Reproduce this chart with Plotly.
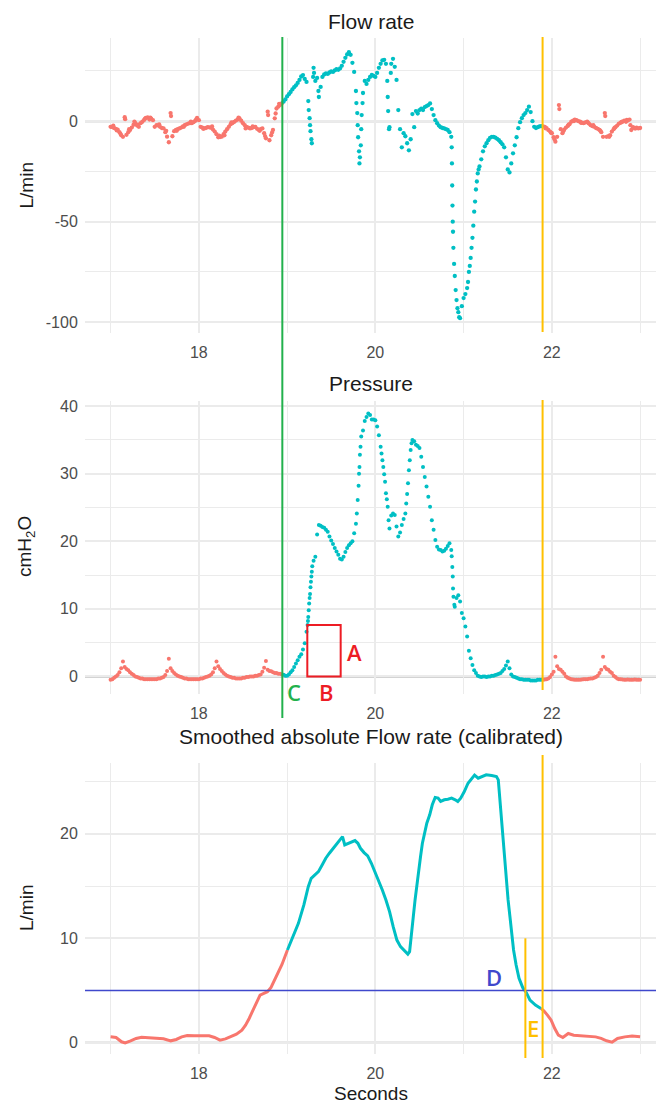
import numpy as np
import plotly.graph_objects as go

# ---------------- data ----------------
T0 = 17.0          # first sample time (s)
DT = 0.02          # sampling step of the listed raw values (s)

# Flow rate (L/min), one value every 0.02 s from 17.00 to 23.00 s
flow_rate = [
    -2.8, -3.0, -3.4, -3.8, -4.2, -5.5, -7.0, -7.8, 2.0, -6.8, -5.5, -4.4, -3.2, -1.8, -1.0, -2.2, -2.8, -1.0, -0.3, 0.6, 1.6, 1.9, 0.8, 1.2, 0.5,
    -2.8, -2.0, -2.2, -2.8, -3.4, -3.6, -5.5, -7.7, -10.5, 4.0, -7.5, -5.0, -4.4, -4.0, -3.6, -3.2, -2.6, -2.0, -1.6, -1.2, -1.0, -1.0, -0.5, 0.2, 1.6,
    0.5, -2.8, -3.2, -3.6, -3.4, -3.0, -3.1, -3.3, -4.2, -5.2, -6.5, -8.0, -7.9, -7.7, -6.5, -5.2, -4.0, -2.8, -1.6, -1.0, -0.4, 0.3, 0.8, 1.4, 0.2,
    -1.0, -2.0, -2.8, -3.2, -3.6, -3.4, -3.0, -2.8, -3.8, -4.4, -4.0, -3.6, -6.0, -8.5, 4.7, -9.5, -7.0, -4.4, 1.4, 6.3, 7.2, 8.0, 8.8, 9.7, 10.8,
    12.3, 13.4, 14.5, 15.8, 16.9, 17.8, 19.0, 20.5, 22.2, 22.9, 21.0, 19.5, 10.0, -2.0, -11.0, 26.5, 20.0, 21.5, 12.0, 17.0, 22.0, 23.2, 23.8, 23.5, 24.2,
    24.8, 24.5, 25.2, 25.8, 25.5, 26.2, 27.5, 29.5, 31.5, 33.2, 34.3, 33.0, 29.0, 24.5, 15.0, -2.0, -21.0, -4.0, 14.0, 20.0, 18.5, 20.5, 22.0, 23.0, 22.5,
    22.0, 24.0, 26.5, 28.5, 30.2, 30.5, 28.5, 12.0, -3.0, 28.5, 31.0, 27.0, 20.5, 5.5, -4.0, -13.0, -6.0, -7.5, -11.0, -14.5, -9.0, 3.5, -3.0, 5.0, 3.8,
    5.5, 6.2, 5.5, 7.0, 7.5, 8.0, 8.8, 6.0, 3.0, 0.5, -1.0, -2.2, -3.0, -3.4, -3.6, -4.0, -4.4, -5.5, -7.8, -55.0, -77.0, -89.0, -95.0, -98.0, -92.0,
    -88.0, -86.0, -83.0, -75.0, -68.0, -58.0, -45.0, -34.0, -26.0, -22.5, -19.0, -15.0, -12.5, -11.0, -9.5, -8.3, -7.8, -7.8, -8.2, -8.8, -9.5, -10.5, -11.5, -13.0, -18.0,
    -24.0, -25.5, -21.0, -16.0, -12.0, -8.0, -3.5, -0.5, 1.5, 3.0, 4.0, 5.5, 7.2, 4.5, 0.0, -2.8, -3.4, -3.0, -2.6, -2.5, -2.6, -2.8, -3.5, -4.4, -5.2,
    -6.0, -8.0, -10.2, -7.8, 8.0, -4.0, -6.0, -4.2, -3.2, -2.4, -1.5, -0.3, 0.2, 0.8, 0.5, 0.0, -0.3, -0.8, -1.0, -0.6, -0.3, -1.2, -2.0, -2.5, -2.8,
    -3.4, -3.8, -4.4, -5.5, -7.8, 4.0, -7.8, -7.4, -7.0, -5.2, -4.0, -3.0, -2.2, -1.2, -0.8, -0.3, 0.2, -0.3, 0.3, 0.8, -4.4, -3.0, -3.6, -3.2, -3.6,
    -3.4,
]
# extra flow samples visible as separate dots in fast transitions and in the noisy baseline
flow_extra_t = [17.03, 17.07, 17.11, 17.165, 17.21, 17.27, 17.31, 17.39, 17.45, 17.55, 17.63, 17.685, 17.75,
                17.83, 17.91, 17.97, 18.05, 18.15, 18.23, 18.29, 18.37, 18.45, 18.53, 18.61, 18.69, 18.75,
                18.785, 18.83, 18.87, 18.91,
                19.245, 19.255, 19.265, 19.275, 19.295, 19.305, 19.355,
                19.785, 19.795, 19.805, 19.815, 19.825, 19.835, 19.845, 19.855,
                20.135, 20.145, 20.155, 20.175,
                20.865, 20.868, 20.871, 20.874, 20.877, 20.884, 20.892, 20.91, 20.93, 20.95,
                21.05, 21.07, 21.09, 21.11, 21.13, 21.15, 21.17,
                21.93, 21.99, 22.03, 22.085, 22.13, 22.19, 22.25, 22.33, 22.41, 22.47, 22.55, 22.605,
                22.65, 22.71, 22.79, 22.85, 22.89, 22.95]
flow_extra_v = [-2.2, -4.6, -6.2, 1.0, -4.0, -0.2, -1.8, 1.2, 1.8, -1.6, -4.8, 2.5, -4.8,
                -2.8, -0.2, 0.9, -3.8, -2.6, -7.2, -7.0, -0.6, 1.8, -3.6, -2.6, -4.8, -7.4,
                3.0, -5.6, 3.8, 8.6,
                5.5, 1.5, -5.0, -9.0, 22.0, 24.0, 15.0,
                9.0, 4.0, -8.0, -15.0, -18.0, -12.0, 3.0, 9.0,
                20.0, 5.0, -4.0, 24.0,
                -13.0, -21.0, -32.0, -42.0, -50.0, -63.0, -71.0, -84.0, -93.0, -97.5,
                -80.0, -72.0, -63.0, -52.0, -40.0, -30.0, -24.0,
                -3.6, -5.8, -9.0, 6.0, -5.0, -1.8, 0.0, -0.8, -0.8, -2.0, -4.8, 2.5,
                -7.8, -3.4, -0.4, 0.6, -2.0, -3.6]

# Pressure (cmH2O), one value every 0.02 s from 17.00 to 23.00 s
pressure = [
    -0.5, -0.4, -0.2, 0.0, 0.2, 0.6, 1.2, 2.2, 1.4, 1.1, 0.9, 0.6, 0.4, 0.2, 0.0, -0.1, -0.2, -0.3, -0.3, -0.4, -0.4, -0.4, -0.4, -0.4, -0.4,
    -0.4, -0.4, -0.3, -0.3, -0.2, -0.1, 0.2, 0.8, 2.6, 1.2, 0.8, 0.5, 0.3, 0.1, 0.0, -0.1, -0.2, -0.3, -0.3, -0.4, -0.4, -0.4, -0.4, -0.4, -0.4,
    -0.4, -0.3, -0.3, -0.2, -0.1, 0.0, 0.1, 0.3, 0.6, 1.2, 2.2, 1.5, 1.1, 0.8, 0.5, 0.3, 0.1, 0.0, -0.1, -0.2, -0.2, -0.3, -0.3, -0.3, -0.3,
    -0.2, -0.2, -0.1, -0.1, 0.0, 0.0, 0.0, 0.1, 0.1, 0.2, 0.3, 0.7, 1.3, 2.3, 1.0, 0.8, 0.75, 0.6, 0.5, 0.5, 0.4, 0.4, 0.3, 0.25, 0.1,
    0.1, 0.3, 0.6, 0.9, 1.4, 1.9, 2.4, 2.9, 3.3, 4.0, 4.9, 6.6, 8.8, 12.2, 15.5, 17.1, 17.7, 21.0, 22.4, 22.3, 22.1, 22.0, 21.7, 21.4, 20.7,
    20.1, 19.6, 19.0, 18.5, 18.0, 17.4, 17.3, 17.7, 18.4, 19.0, 19.4, 19.7, 20.0, 21.2, 22.6, 26.1, 31.0, 35.5, 36.4, 37.8, 38.4, 38.9, 38.7, 38.0, 38.0,
    37.9, 37.0, 35.7, 34.0, 32.0, 29.9, 27.1, 25.1, 21.9, 23.8, 24.1, 23.9, 22.2, 20.7, 21.3, 22.4, 23.3, 24.1, 27.0, 30.5, 33.5, 35.0, 34.8, 34.3, 34.1,
    33.8, 32.5, 31.0, 29.5, 28.1, 26.6, 25.1, 23.1, 21.7, 20.2, 19.2, 18.8, 18.7, 18.5, 18.6, 18.9, 19.3, 19.7, 18.7, 13.0, 10.3, 11.6, 12.0, 11.1, 9.4,
    8.6, 7.4, 5.9, 3.8, 2.7, 1.7, 0.9, 0.5, 0.1, 0.0, -0.1, 0.0, 0.0, -0.1, 0.0, 0.0, 0.1, 0.1, 0.2, 0.3, 0.4, 0.5, 0.8, 1.1, 1.6,
    2.2, 1.2, 0.3, 0.0, -0.1, -0.2, -0.3, -0.4, -0.4, -0.5, -0.5, -0.5, -0.5, -0.6, -0.6, -0.6, -0.6, -0.5, -0.5, -0.5, -0.5, -0.45, -0.4, -0.3, -0.1,
    0.3, 0.7, 2.9, 1.5, 1.1, 1.0, 0.7, 0.4, 0.0, -0.2, -0.3, -0.4, -0.45, -0.5, -0.5, -0.5, -0.5, -0.45, -0.4, -0.4, -0.4, -0.35, -0.3, -0.3, -0.2,
    -0.1, 0.1, 0.5, 1.0, 2.9, 1.4, 1.1, 1.0, 0.7, 0.5, 0.1, -0.1, -0.3, -0.4, -0.4, -0.45, -0.5, -0.5, -0.45, -0.5, -0.5, -0.5, -0.45, -0.5, -0.5,
    -0.5,
]
pressure_extra_t = [19.232, 19.236, 19.245, 19.250, 19.255, 19.265, 19.270, 19.275, 19.285,
                    19.79, 19.81, 19.815, 19.825, 19.832,
                    20.07, 20.09, 20.11, 20.13, 20.15,
                    20.35, 20.37, 20.39, 20.41,
                    20.865, 20.872, 20.877, 20.885, 20.895]
pressure_extra_v = [7.6, 8.2, 9.8, 10.8, 11.6, 13.2, 14.0, 14.8, 16.3,
                    24.1, 28.2, 30.0, 32.8, 34.0,
                    33.0, 31.0, 28.8, 26.2, 23.1,
                    25.6, 28.6, 32.0, 34.5,
                    17.8, 16.2, 14.8, 11.8, 10.6]

# Smoothed absolute flow rate (calibrated), L/min
smooth_t = [17.000, 17.062, 17.124, 17.165, 17.227, 17.289, 17.351, 17.434, 17.517, 17.599,
            17.682, 17.744, 17.806, 17.868, 17.950, 18.033, 18.116, 18.178, 18.240, 18.302,
            18.364, 18.426, 18.488, 18.529, 18.570, 18.612, 18.653, 18.694, 18.736, 18.777,
            18.818, 18.860, 18.901, 18.942, 19.004, 19.066, 19.128, 19.190, 19.240, 19.273,
            19.314, 19.355, 19.397, 19.438, 19.479, 19.521, 19.562, 19.603, 19.628, 19.653,
            19.686, 19.727, 19.769, 19.802, 19.831, 19.872, 19.913, 19.955, 19.996, 20.037,
            20.079, 20.120, 20.161, 20.202, 20.244, 20.285, 20.326, 20.368, 20.388, 20.409,
            20.430, 20.450, 20.471, 20.492, 20.512, 20.533, 20.554, 20.583, 20.616, 20.645,
            20.678, 20.711, 20.740, 20.781, 20.822, 20.864, 20.905, 20.934, 20.967, 21.008,
            21.050, 21.091, 21.124, 21.165, 21.215, 21.256, 21.318, 21.372, 21.393, 21.405,
            21.421, 21.442, 21.463, 21.483, 21.504, 21.525, 21.545, 21.566, 21.595, 21.628,
            21.669, 21.711, 21.752, 21.814, 21.876, 21.909, 21.950, 21.992, 22.033, 22.074,
            22.124, 22.186, 22.248, 22.331, 22.413, 22.496, 22.558, 22.620, 22.682, 22.744,
            22.826, 22.909, 23.000]
smooth_v = [0.57, 0.51, 0.10, 0.00, 0.19, 0.42, 0.54, 0.51, 0.45, 0.38,
            0.19, 0.32, 0.57, 0.70, 0.67, 0.70, 0.67, 0.51, 0.26, 0.38,
            0.64, 0.83, 1.21, 1.69, 2.33, 3.13, 3.93, 4.57, 4.73, 4.89,
            5.30, 6.00, 6.80, 7.50, 8.88, 10.15, 11.43, 13.19, 14.94, 15.74,
            16.06, 16.38, 17.02, 17.66, 18.14, 18.61, 19.09, 19.48, 19.73, 18.93,
            19.03, 19.16, 19.35, 19.09, 18.61, 18.20, 17.88, 17.18, 16.38, 15.42,
            14.62, 13.67, 12.55, 11.11, 9.83, 9.20, 8.88, 8.49, 8.72, 10.15,
            12.07, 13.67, 15.26, 16.54, 17.82, 19.09, 20.05, 21.01, 21.81, 22.77,
            23.47, 23.41, 23.09, 23.25, 23.31, 23.41, 23.25, 23.09, 23.41, 24.04,
            24.84, 25.32, 25.61, 25.32, 25.48, 25.64, 25.57, 25.48, 25.16, 23.88,
            21.65, 19.41, 17.50, 15.58, 13.67, 12.07, 10.47, 8.88, 7.44, 6.16,
            5.30, 4.80, 4.09, 3.61, 3.29, 3.07, 2.65, 2.17, 1.37, 0.73,
            0.51, 0.89, 0.73, 0.67, 0.67, 0.57, 0.42, 0.19, 0.06, 0.42,
            0.57, 0.64, 0.57]

# event markers
onset = 18.946          # green line (C)
offset = 21.895         # yellow lines
threshold = 5.0         # blue line (D)
e_time = 21.70          # short yellow line (E)
e_top = 10.0
rect_t = [19.229, 19.607]   # red box (B)
rect_top = 7.6              # red box height (A)

# axes / ticks
x_range = [16.71, 23.18]
x_ticks = [18, 20, 22]
x_minor = [17, 19, 21, 23]
flow_range = [-105.2, 41.2]
flow_ticks = [-100, -50, 0]
flow_ticktext = ["-100", "-50", "0"]
flow_minor = [-75, -25, 25]
pres_range = [-2.6, 40.8]
pres_ticks = [0, 10, 20, 30, 40]
pres_minor = [5, 15, 25, 35]
smooth_range = [-1.07, 26.8]
smooth_ticks = [0, 10, 20]
smooth_minor = [5, 15, 25]

assert len(flow_rate) == 301 and len(pressure) == 301
assert len(flow_extra_t) == len(flow_extra_v)
assert len(pressure_extra_t) == len(pressure_extra_v)
assert len(smooth_t) == len(smooth_v)

# ---------------- styling ----------------
RED = "#F8766D"
TEAL = "#00BFC4"
GREEN = "#22B14C"
YELLOW = "#FFC000"
BLUE = "#3F48CC"
BOXRED = "#ED1C24"
GRID = "#EBEBEB"
ZERO = "#A8A8A8"
FONT = "Liberation Sans"
TICKFONT = dict(family=FONT, size=16, color="#4D4D4D")

W, H = 656, 1104
ML = 85


def py(px):
    """pixel row -> paper fraction (margins t=b=0)"""
    return 1 - px / H


def pxx(px):
    return (px - ML) / (W - ML)


DOM1 = [py(332.7), py(38.3)]
DOM2 = [py(694.0), py(400.7)]
DOM3 = [py(1054.0), py(762.7)]

fig = go.Figure()


def add_points(t, v, xa, ya, size):
    t = np.asarray(t)
    v = np.asarray(v)
    order = np.argsort(t, kind="stable")
    t, v = t[order], v[order]
    inside = (t >= onset) & (t <= offset)
    for mask, col in ((~inside, RED), (inside, TEAL)):
        fig.add_trace(go.Scatter(
            x=t[mask], y=v[mask], mode="markers", xaxis=xa, yaxis=ya,
            marker=dict(color=col, size=size, line=dict(width=0)),
            hoverinfo="skip", showlegend=False))


grid_t = np.round(T0 + DT * np.arange(len(flow_rate)), 3)
add_points(np.concatenate([grid_t, flow_extra_t]),
           np.concatenate([flow_rate, flow_extra_v]), "x", "y", 4.3)
add_points(np.concatenate([grid_t, pressure_extra_t]),
           np.concatenate([pressure, pressure_extra_v]), "x2", "y2", 4.0)

st = np.asarray(smooth_t)
sv = np.asarray(smooth_v)
i_on = int(np.argmax(st >= onset))
i_off = int(np.where(st <= offset)[0][-1])
# red before onset (joined to first teal point), red after offset, teal between
for sl, col in [(slice(0, i_on + 1), RED), (slice(i_off, None), RED), (slice(i_on, i_off + 1), TEAL)]:
    fig.add_trace(go.Scatter(x=st[sl], y=sv[sl], mode="lines", xaxis="x3", yaxis="y3",
                             line=dict(color=col, width=3), hoverinfo="skip", showlegend=False))


def xaxis(anchor):
    return dict(domain=[0, 1], anchor=anchor, range=x_range, tickmode="array",
                tickvals=x_ticks, ticktext=[str(v) for v in x_ticks],
                showgrid=True, gridcolor=GRID, gridwidth=1.6,
                minor=dict(tickmode="array", tickvals=x_minor, showgrid=True,
                           gridcolor=GRID, gridwidth=0.9),
                zeroline=False, showline=False, ticks="outside", ticklen=5,
                tickcolor="rgba(0,0,0,0)", tickfont=TICKFONT)


def yaxis(anchor, dom, rng, tv, tt, minor):
    return dict(domain=dom, anchor=anchor, range=rng, tickmode="array",
                tickvals=tv, ticktext=tt, showgrid=True, gridcolor=GRID, gridwidth=1.6,
                minor=dict(tickmode="array", tickvals=minor, showgrid=True,
                           gridcolor=GRID, gridwidth=0.9),
                zeroline=False, showline=False, ticks="outside", ticklen=3,
                tickcolor="rgba(0,0,0,0)", tickfont=TICKFONT)


shapes = []
for yref in ("y", "y2", "y3"):
    shapes.append(dict(type="line", xref=yref.replace("y", "x") + " domain", yref=yref,
                       x0=0, x1=1, y0=0, y1=0, line=dict(color=ZERO, width=2), layer="below"))
shapes.append(dict(type="line", xref="x3 domain", yref="y3", x0=0, x1=1,
                   y0=threshold, y1=threshold, line=dict(color=BLUE, width=1.6)))
shapes.append(dict(type="line", xref="x", yref="paper", x0=onset, x1=onset,
                   y0=py(718), y1=py(37), line=dict(color=GREEN, width=2)))
for y0, y1 in ((py(332), py(37)), (py(690), py(400)), (py(1058), py(755))):
    shapes.append(dict(type="line", xref="x", yref="paper", x0=offset, x1=offset,
                       y0=y0, y1=y1, line=dict(color=YELLOW, width=2)))
e_paper = DOM3[0] + (e_top - smooth_range[0]) / (smooth_range[1] - smooth_range[0]) * (DOM3[1] - DOM3[0])
shapes.append(dict(type="line", xref="x", yref="paper", x0=e_time, x1=e_time,
                   y0=py(1058), y1=e_paper, line=dict(color=YELLOW, width=2)))
shapes.append(dict(type="rect", xref="x2", yref="y2", x0=rect_t[0], x1=rect_t[1],
                   y0=0, y1=rect_top, line=dict(color=BOXRED, width=2)))


def ann(text, x, y, size, color, angle=0, family=FONT, weight="normal"):
    return dict(text=text, x=x, y=y, xref="paper", yref="paper", showarrow=False,
                xanchor="center", yanchor="middle", textangle=angle,
                font=dict(family=family, size=size, color=color, weight=weight))


annotations = [
    ann("Flow rate", 0.5, py(21.7), 21, "#1A1A1A"),
    ann("Pressure", 0.5, py(383.3), 21, "#1A1A1A"),
    ann("Smoothed absolute Flow rate (calibrated)", 0.5, py(736.7), 21, "#1A1A1A"),
    ann("Seconds", 0.5, py(1093), 19, "#1A1A1A"),
    ann("L/min", pxx(26), py(185.5), 19, "#1A1A1A", -90),
    ann("cmH<sub>2</sub>O", pxx(26), py(547), 19, "#1A1A1A", -90),
    ann("L/min", pxx(26), py(908), 19, "#1A1A1A", -90),
    ann("A", pxx(354), py(651.7), 22, BOXRED, family="Open Sans", weight=600),
    ann("B", pxx(326), py(691.7), 22, BOXRED, family="Open Sans", weight=600),
    ann("C", pxx(294.3), py(691.7), 22, GREEN, family="Open Sans", weight=600),
    ann("D", pxx(494.3), py(976.7), 22, BLUE, family="Open Sans", weight=600),
    ann("E", pxx(533), py(1028), 22, YELLOW, family="Open Sans", weight=600),
]

fig.update_layout(
    width=W, height=H, margin=dict(l=ML, r=0, t=0, b=0, autoexpand=False),
    paper_bgcolor="white", plot_bgcolor="white", showlegend=False,
    font=dict(family=FONT),
    xaxis=xaxis("y"), xaxis2=xaxis("y2"), xaxis3=xaxis("y3"),
    yaxis=yaxis("x", DOM1, flow_range, flow_ticks, flow_ticktext, flow_minor),
    yaxis2=yaxis("x2", DOM2, pres_range, pres_ticks, [str(v) for v in pres_ticks], pres_minor),
    yaxis3=yaxis("x3", DOM3, smooth_range, smooth_ticks, [str(v) for v in smooth_ticks], smooth_minor),
    shapes=shapes, annotations=annotations,
)

# remove the default 8px page margin so the figure sits at the window's top-left corner
fig.write_html("out.html", config={"displayModeBar": False},
               post_script="document.body.style.margin='0';")
